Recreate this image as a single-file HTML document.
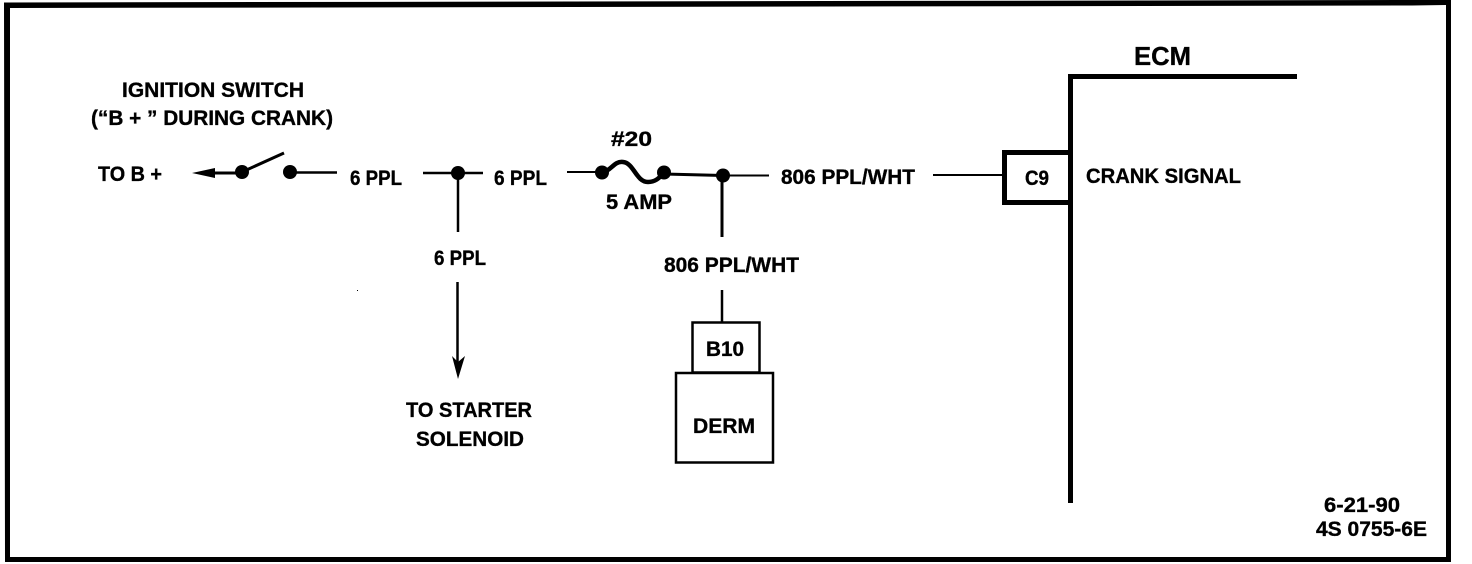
<!DOCTYPE html>
<html><head><meta charset="utf-8"><style>
html,body{margin:0;padding:0;background:#fff;width:1472px;height:564px;overflow:hidden}
svg{display:block}
text{font-family:"Liberation Sans",sans-serif;font-weight:bold;font-size:21px;fill:#000;stroke:#000;stroke-width:.35px}
</style></head><body>
<svg width="1472" height="564" viewBox="0 0 1472 564" xmlns="http://www.w3.org/2000/svg">
<rect width="1472" height="564" fill="#fff"/>
<!-- frame -->
<path fill="#000" fill-rule="evenodd" d="M4 2.500L1412 0H1451V562H5V557L4 2.500ZM10 8V557H1446V5L1412 5.500Z"/>
<!-- ECM -->
<g fill="#000">
<rect x="1068" y="74" width="229" height="5"/>
<rect x="1068" y="74" width="5" height="429"/>
<rect x="1002" y="150" width="66" height="5"/>
<rect x="1002" y="200" width="66" height="5"/>
<rect x="1002" y="150" width="5" height="55"/>
</g>
<!-- wires -->
<g stroke="#000" fill="none">
<path d="M933 175H1002" stroke-width="2"/>
<path d="M212 173H242" stroke-width="3"/>
<path d="M242 172L284 153" stroke-width="3"/>
<path d="M290 172.500H337" stroke-width="2.500"/>
<path d="M423 173H483" stroke-width="2.500"/>
<path d="M458 173V232" stroke-width="2.500"/>
<path d="M457.500 282V362" stroke-width="2.500"/>
<path d="M567 172H602" stroke-width="2"/>
<path d="M602 173C612 170 614 161 623 162C634 163 636 182 648 182C656 182 660 177 664 173" stroke-width="4.500"/>
<path d="M664 174L723 175.500" stroke-width="3"/>
<path d="M723 175.500H769" stroke-width="2"/>
<path d="M722 175V237" stroke-width="3"/>
<path d="M722 290V322" stroke-width="2.500"/>
<rect x="692.500" y="322.500" width="67" height="50" stroke-width="2.500"/>
<rect x="676" y="373" width="97" height="89.500" stroke-width="2.500"/>
</g>
<g fill="#000">
<circle cx="242" cy="172" r="7"/>
<circle cx="290" cy="172" r="7"/>
<circle cx="458" cy="173" r="7"/>
<circle cx="602" cy="172.500" r="7"/>
<circle cx="664" cy="172.500" r="7"/>
<circle cx="723" cy="175.500" r="7"/>
<path d="M192 173L215 168V178Z"/>
<path d="M458 379L452 356L458 362L465 356Z"/>
<rect x="357" y="290" width="1" height="1"/>
</g>
<!-- labels -->
<text x="122" y="97" textLength="182" lengthAdjust="spacingAndGlyphs">IGNITION SWITCH</text>
<text x="91" y="125" textLength="242" lengthAdjust="spacingAndGlyphs">(“B + ” DURING CRANK)</text>
<text x="98" y="181" textLength="64" lengthAdjust="spacingAndGlyphs">TO B +</text>
<text x="350" y="185" textLength="52" lengthAdjust="spacingAndGlyphs">6 PPL</text>
<text x="494" y="185" textLength="53" lengthAdjust="spacingAndGlyphs">6 PPL</text>
<text x="434" y="265" textLength="52" lengthAdjust="spacingAndGlyphs">6 PPL</text>
<text x="611" y="146" textLength="41" lengthAdjust="spacingAndGlyphs">#20</text>
<text x="606" y="209" textLength="66" lengthAdjust="spacingAndGlyphs">5 AMP</text>
<text x="781" y="184" textLength="134" lengthAdjust="spacingAndGlyphs">806 PPL/WHT</text>
<text x="664" y="272" textLength="135" lengthAdjust="spacingAndGlyphs">806 PPL/WHT</text>
<text x="706" y="356" textLength="38" lengthAdjust="spacingAndGlyphs">B10</text>
<text x="693" y="433" textLength="62" lengthAdjust="spacingAndGlyphs">DERM</text>
<text x="1134" y="65" textLength="57" lengthAdjust="spacingAndGlyphs" style="font-size:26px">ECM</text>
<text x="1025" y="185" textLength="24" lengthAdjust="spacingAndGlyphs">C9</text>
<text x="1086" y="183" textLength="155" lengthAdjust="spacingAndGlyphs">CRANK SIGNAL</text>
<text x="406" y="417" textLength="126" lengthAdjust="spacingAndGlyphs">TO STARTER</text>
<text x="416" y="446" textLength="108" lengthAdjust="spacingAndGlyphs">SOLENOID</text>
<text x="1324" y="512" textLength="76" lengthAdjust="spacingAndGlyphs">6-21-90</text>
<text x="1316" y="536" textLength="111" lengthAdjust="spacingAndGlyphs">4S 0755-6E</text>
</svg>
</body></html>
